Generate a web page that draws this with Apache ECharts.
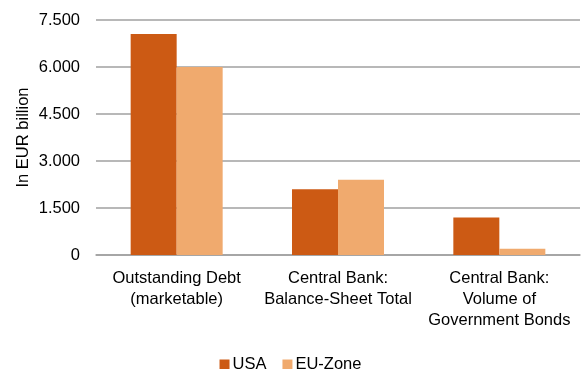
<!DOCTYPE html>
<html>
<head>
<meta charset="utf-8">
<script src="https://cdn.jsdelivr.net/npm/echarts@6/dist/echarts.min.js"></script>
<style>
  html, body { margin: 0; padding: 0; background: #fff; }
  #chart { width: 581px; height: 369px; }
</style>
</head>
<body>
<div id="chart"></div>
<script>
// values, EUR billion
const categories = [
  "Outstanding Debt\n(marketable)",
  "Central Bank:\nBalance-Sheet Total",
  "Central Bank:\nVolume of\nGovernment Bonds"
];
const usa = [7050, 2100, 1200];
const euZone = [6000, 2400, 200];

const FONT = "Liberation Sans, Arial, sans-serif";
const chart = echarts.init(document.getElementById("chart"));

chart.setOption({
  animation: false,
  textStyle: { fontFamily: FONT },
  grid: { left: 96, right: 1, top: 20, bottom: 114 },
  legend: {
    top: 351,
    left: "center",
    itemWidth: 10,
    itemHeight: 10,
    itemGap: 16,
    icon: "rect",
    textStyle: { fontSize: 16.5, color: "#000", fontFamily: FONT, padding: [0, 0, 0, -2] },
    data: ["USA", "EU-Zone"]
  },
  xAxis: {
    type: "category",
    data: categories,
    axisLine: { lineStyle: { color: "#a0a0a0", width: 1.5 } },
    axisTick: { length: 6, lineStyle: { color: "#a0a0a0", width: 1.5 } },
    axisLabel: { fontSize: 16.5, color: "#000", lineHeight: 21, margin: 13, interval: 0 }
  },
  yAxis: {
    type: "value",
    min: 0,
    max: 7500,
    interval: 1500,
    name: "In EUR billion",
    nameLocation: "middle",
    nameGap: 64,
    nameMoveOverlap: false,
    nameTextStyle: { fontSize: 16.5, color: "#000" },
    axisLine: { show: false },
    axisTick: { show: false },
    splitLine: { lineStyle: { color: "#a0a0a0", width: 1.5 } },
    axisLabel: {
      fontSize: 16.5,
      color: "#000",
      margin: 16,
      formatter: (v) => String(v).replace(/\B(?=(\d{3})+(?!\d))/g, ".")
    }
  },
  series: [
    {
      name: "USA",
      type: "bar",
      data: usa,
      barWidth: 46,
      barGap: "0%",
      itemStyle: { color: "#cc5a14" }
    },
    {
      name: "EU-Zone",
      type: "bar",
      data: euZone,
      barWidth: 46,
      itemStyle: { color: "#f0aa6e" }
    }
  ]
});
</script>
</body>
</html>
